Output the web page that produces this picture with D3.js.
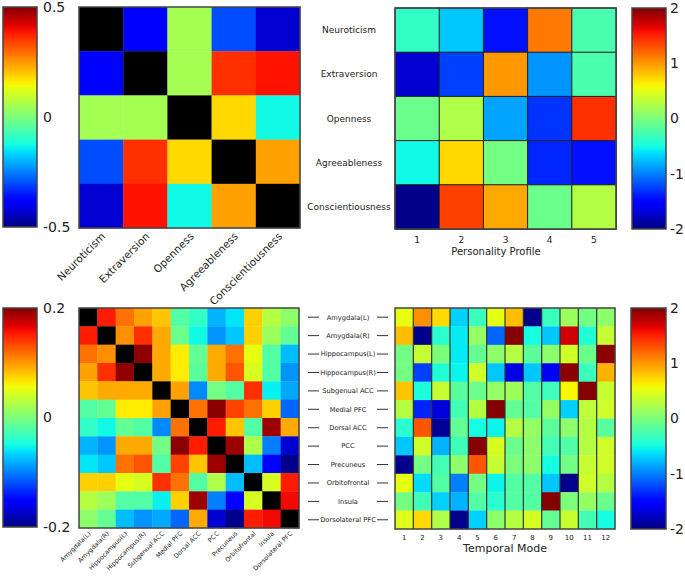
<!DOCTYPE html>
<html><head><meta charset="utf-8">
<script src="https://cdn.jsdelivr.net/npm/d3@7"></script>
<style>body{margin:0;background:#fff}svg{display:block;font-family:"DejaVu Sans",sans-serif}</style>
</head><body>
<svg id="c" width="685" height="576"></svg>
<script>
// ---------- DATA ----------
const traits = ["Neuroticism","Extraversion","Openness","Agreeableness","Conscientiousness"];
const profiles = ["1","2","3","4","5"];
const traitCorr = [
  [null,-0.38,0.05,-0.30,-0.43],
  [-0.38,null,0.05,0.36,0.39],
  [0.05,0.05,null,0.18,-0.13],
  [-0.30,0.36,0.18,null,0.24],
  [-0.43,0.39,-0.13,0.24,null]
];
const profileScores = [
  [-0.36,-0.72,-1.44,1.13,-0.24],
  [-1.72,-1.25,1.00,-0.92,-0.24],
  [-0.08,0.24,-0.86,-1.30,1.44],
  [-0.52,0.72,-0.04,-1.36,-1.44],
  [-1.96,1.37,0.93,-0.08,0.27]
];
const regions = ["Amygdala(L)","Amygdala(R)","Hippocampus(L)","Hippocampus(R)","Subgenual ACC","Medial PFC","Dorsal ACC","PCC","Precuneus","Orbitofrontal","Insula","Dorsolateral PFC"];
const modes = ["1","2","3","4","5","6","7","8","9","10","11","12"];
const regionCorr = [
  [null,0.152,0.116,0.096,0.080,-0.020,-0.036,-0.080,-0.060,0.076,0.028,0.008],
  [0.152,null,0.104,0.144,0.092,-0.008,-0.052,-0.092,-0.072,0.076,0.016,-0.012],
  [0.116,0.104,null,0.195,0.092,0.064,-0.012,0.092,0.116,0.052,-0.020,-0.076],
  [0.096,0.144,0.195,null,0.092,0.064,-0.016,0.092,0.128,0.044,-0.020,-0.092],
  [0.080,0.092,0.092,0.092,null,0.096,-0.096,-0.004,-0.020,0.144,-0.056,-0.084],
  [-0.020,-0.012,0.064,0.064,0.096,null,0.116,0.196,0.136,0.116,0.076,-0.110],
  [-0.036,-0.052,-0.012,-0.020,-0.096,0.116,null,0.152,0.080,-0.020,0.190,0.092],
  [-0.080,-0.092,0.092,0.092,-0.004,0.196,0.152,null,0.190,0.024,-0.100,-0.172],
  [-0.060,-0.072,0.116,0.128,-0.020,0.136,0.080,0.190,null,-0.076,-0.152,-0.196],
  [0.076,0.076,0.052,0.044,0.144,0.116,-0.020,0.024,-0.076,null,0.044,0.152],
  [0.028,0.016,-0.020,-0.020,-0.056,0.076,0.190,-0.100,-0.152,0.044,null,0.160],
  [0.008,-0.012,-0.076,-0.092,-0.084,-0.110,0.092,-0.172,-0.196,0.152,0.160,null]
];
const modeLoadings = [
  [0.52,1.04,0.72,-0.68,-0.32,0.52,0.84,-1.96,-0.32,0.16,-0.04,0.08],
  [0.84,-1.96,-0.40,-0.58,0.12,-1.10,1.98,-0.50,-0.72,1.72,-0.44,0.36],
  [-0.04,0.36,0.00,-0.58,-0.12,0.08,0.28,-0.16,0.08,0.40,-0.08,1.96],
  [-0.04,-1.25,-0.44,-0.54,0.40,-0.72,-1.64,-0.72,-1.60,1.96,-0.32,0.88],
  [0.80,-0.46,0.36,-0.16,-0.08,0.12,0.16,-0.20,-0.30,0.60,1.98,0.36],
  [0.28,-1.36,-1.68,-0.28,0.28,1.98,-0.12,-0.20,0.12,-0.68,0.32,0.40],
  [-0.40,1.28,-1.92,-0.12,-0.50,-0.54,0.28,0.12,-0.16,0.08,0.28,-0.16],
  [-0.72,0.40,-0.80,-0.30,1.98,0.44,-0.08,0.08,-0.28,-0.20,0.28,0.40],
  [-1.96,-0.04,-0.28,0.08,1.28,0.36,0.00,0.08,-0.50,-0.04,0.36,0.40],
  [0.52,-0.64,-0.20,-1.00,-0.04,-0.54,-0.20,-0.20,-0.72,-1.96,0.40,0.28],
  [-0.04,-0.30,-0.68,-0.80,-0.20,-0.40,-0.20,-0.20,1.98,0.00,0.12,-0.08],
  [0.48,0.72,0.24,-1.96,-0.68,0.08,0.28,0.44,-0.12,0.36,-0.28,-0.50]
];
const cbTicksA = [0.5,0,-0.5];
const cbTicksB = [2,1,0,-1,-2];
const cbTicksC = [0.2,0,-0.2];

// ---------- jet colormap (matplotlib segments) ----------
function seg(pts, t){
  for(let i=1;i<pts.length;i++){
    if(t<=pts[i][0]){const a=pts[i-1],b=pts[i];return a[1]+(b[1]-a[1])*(t-a[0])/(b[0]-a[0]);}
  }
  return pts[pts.length-1][1];
}
const R=[[0,0],[0.35,0],[0.66,1],[0.89,1],[1,0.5]];
const G=[[0,0],[0.125,0],[0.375,1],[0.64,1],[0.91,0],[1,0]];
const B=[[0,0.5],[0.11,1],[0.34,1],[0.65,0],[1,0]];
function jet(t){t=Math.max(0,Math.min(1,t));return d3.rgb(255*seg(R,t),255*seg(G,t),255*seg(B,t)).toString();}

const svg=d3.select("#c");
const defs=svg.append("defs");
const FRAME="#444";

function gradient(id){
  const g=defs.append("linearGradient").attr("id",id).attr("x1",0).attr("y1",1).attr("x2",0).attr("y2",0);
  d3.range(0,1.0001,0.02).forEach(t=>g.append("stop").attr("offset",t).attr("stop-color",jet(t)));
}
gradient("jetg");

function colorbar(x0,x1,y0,y1,domain,ticks,fs,pad){
  const y=d3.scaleLinear().domain(domain).range([y1,y0]);
  const g=svg.append("g");
  g.append("rect").attr("x",x0).attr("y",y0).attr("width",x1-x0).attr("height",y1-y0)
    .attr("fill","url(#jetg)").attr("stroke",FRAME).attr("stroke-width",1.5);
  const ax=svg.append("g").attr("transform",`translate(${x1},0)`)
    .call(d3.axisRight(y).tickValues(ticks).tickSize(0).tickPadding(pad).tickFormat(d=>String(d)));
  ax.select(".domain").remove();
  ax.selectAll("text").attr("font-size",fs).attr("fill","#222").attr("font-family","DejaVu Sans");
}

function heatmap(opt){
  const {x0,x1,y0,y1,rows,cols,data,domain}=opt;
  const xs=d3.scaleBand().domain(cols).range([x0,x1]);
  const ys=d3.scaleBand().domain(rows).range([y0,y1]);
  const c=d3.scaleLinear().domain(domain).range([0,1]);
  const g=svg.append("g");
  rows.forEach((r,i)=>cols.forEach((k,j)=>{
    const v=data[i][j];
    g.append("rect").attr("x",xs(k)).attr("y",ys(r)).attr("width",xs.bandwidth()+0.3).attr("height",ys.bandwidth()+0.3)
      .attr("fill",v===null?"#000":jet(c(v)))
      .attr("stroke",opt.cellStroke?"#222":"none").attr("stroke-width",opt.cellStroke?1:0);
  }));
  if(opt.colLines){
    cols.slice(1).forEach(k=>g.append("line").attr("x1",xs(k)).attr("x2",xs(k)).attr("y1",y0).attr("y2",y1)
      .attr("stroke","#333").attr("stroke-width",1.2));
  }
  g.append("rect").attr("x",x0).attr("y",y0).attr("width",x1-x0).attr("height",y1-y0)
    .attr("fill","none").attr("stroke",FRAME).attr("stroke-width",1.5);
  return {xs,ys};
}

// ---------- Top-left ----------
colorbar(3,37,7,227,[-0.5,0.5],cbTicksA,14,6);
const tl=heatmap({x0:79,x1:300,y0:7,y1:228,rows:traits,cols:traits,data:traitCorr,domain:[-0.5,0.5]});
traits.forEach(t=>{
  const cx=tl.xs(t)+tl.xs.bandwidth()/2+5;
  svg.append("text").attr("transform",`translate(${cx},${237}) rotate(-45)`)
    .attr("text-anchor","end").attr("font-size",10.5).attr("fill","#222").text(t);
});

// ---------- Top-right ----------
const tr=heatmap({x0:395,x1:616,y0:8,y1:229,rows:traits,cols:profiles,data:profileScores,domain:[-2,2],cellStroke:true});
traits.forEach(t=>{
  svg.append("text").attr("x",349).attr("y",tr.ys(t)+tr.ys.bandwidth()/2).attr("dy","0.35em")
    .attr("text-anchor","middle").attr("font-size",9).attr("fill","#222").text(t);
});
profiles.forEach(p=>{
  svg.append("text").attr("x",tr.xs(p)+tr.xs.bandwidth()/2).attr("y",243)
    .attr("text-anchor","middle").attr("font-size",9).attr("fill","#222").text(p);
});
svg.append("text").attr("x",496).attr("y",255).attr("text-anchor","middle").attr("font-size",10).attr("fill","#222").text("Personality Profile");
colorbar(632,666,8,229,[-2,2],cbTicksB,14,4);

// ---------- Bottom-left ----------
colorbar(3,37,308,527,[-0.2,0.2],cbTicksC,14,6);
const bl=heatmap({x0:79,x1:299,y0:308,y1:528,rows:regions,cols:regions,data:regionCorr,domain:[-0.2,0.2]});
regions.forEach(t=>{
  const cx=bl.xs(t)+bl.xs.bandwidth()/2+3;
  svg.append("text").attr("transform",`translate(${cx},${534}) rotate(-45)`)
    .attr("text-anchor","end").attr("font-size",6.3).attr("fill","#222").text(t);
});

// ---------- Bottom-right ----------
const br=heatmap({x0:395,x1:615,y0:308,y1:529,rows:regions,cols:modes,data:modeLoadings,domain:[-2,2],colLines:true});
regions.forEach(t=>{
  const cy=br.ys(t)+br.ys.bandwidth()/2;
  svg.append("text").attr("x",348).attr("y",cy).attr("dy","0.35em")
    .attr("text-anchor","middle").attr("font-size",6.7).attr("fill","#222").text(t);
  svg.append("line").attr("x1",308).attr("x2",319).attr("y1",cy).attr("y2",cy).attr("stroke","#333").attr("stroke-width",1);
  svg.append("line").attr("x1",377).attr("x2",388).attr("y1",cy).attr("y2",cy).attr("stroke","#333").attr("stroke-width",1);
});
modes.forEach(m=>{
  svg.append("text").attr("x",br.xs(m)+br.xs.bandwidth()/2).attr("y",540)
    .attr("text-anchor","middle").attr("font-size",7).attr("fill","#222").text(m);
});
svg.append("text").attr("x",505).attr("y",552).attr("text-anchor","middle").attr("font-size",11).attr("fill","#222").text("Temporal Mode");
colorbar(631,666,308,529,[-2,2],cbTicksB,14,4);
</script>
</body></html>
